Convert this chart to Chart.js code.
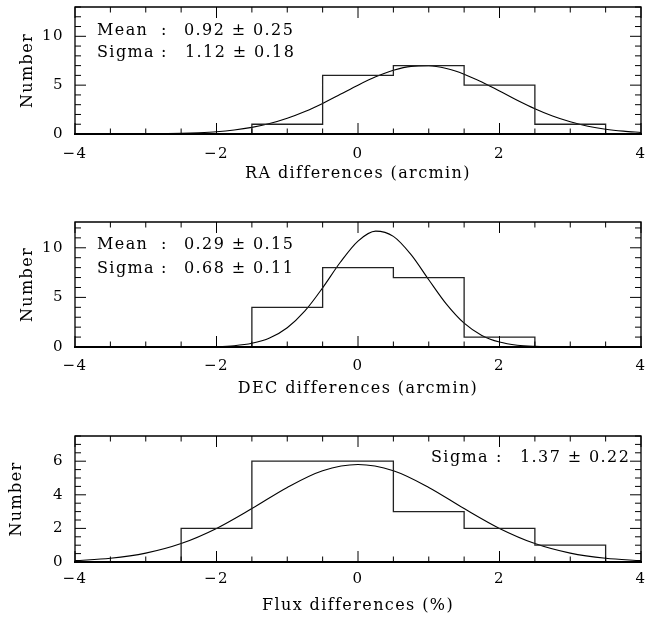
<!DOCTYPE html>
<html>
<head>
<meta charset="utf-8">
<script src="https://cdn.jsdelivr.net/npm/chart.js@4.4.1/dist/chart.umd.min.js"></script>
<style>
  html, body { margin: 0; padding: 0; background: #fff; }
  #wrap { position: relative; width: 645px; height: 618px; }
  .panel { position: absolute; left: 0; width: 645px; }
</style>
</head>
<body>
<div id="wrap">
  <div class="panel" style="top:0;height:200px"><canvas id="raChart"></canvas></div>
  <div class="panel" style="top:200px;height:210px"><canvas id="decChart"></canvas></div>
  <div class="panel" style="top:410px;height:208px"><canvas id="fluxChart"></canvas></div>
</div>
<script>
// ---- data ----
const xTicks = [-4, -2, 0, 2, 4];

// RA differences
const raEdges = [-1.5, -0.5, 0.5, 1.5, 2.5, 3.5];
const raCounts = [1, 6, 7, 5, 1];
const raFitX = [-4, -3.5, -3, -2.5, -2.25, -2, -1.75, -1.5, -1.25, -1, -0.75, -0.5, -0.25, 0, 0.25, 0.5, 0.75, 1, 1.25, 1.5, 1.75, 2, 2.25, 2.5, 2.75, 3, 3.25, 3.5, 3.75, 4];
const raFitY = [0, 0.00, 0.02, 0.07, 0.13, 0.23, 0.41, 0.68, 1.07, 1.61, 2.30, 3.13, 4.06, 5.00, 5.85, 6.52, 6.92, 6.98, 6.70, 6.12, 5.32, 4.40, 3.46, 2.59, 1.84, 1.25, 0.80, 0.49, 0.29, 0.16];
const raTicksY = [0, 5, 10];

// DEC differences
const decEdges = [-1.5, -0.5, 0.5, 1.5, 2.5];
const decCounts = [4, 8, 7, 1];
const decFitX = [-4, -3, -2.5, -2, -1.75, -1.5, -1.25, -1, -0.75, -0.5, -0.25, 0, 0.25, 0.5, 0.75, 1, 1.25, 1.5, 1.75, 2, 2.25, 2.5, 2.75, 3, 4];
const decFitY = [0, 0, 0, 0.04, 0.13, 0.37, 0.90, 1.94, 3.63, 5.96, 8.54, 10.68, 11.68, 11.15, 9.31, 6.78, 4.32, 2.40, 1.17, 0.50, 0.18, 0.06, 0.02, 0, 0];
const decTicksY = [0, 5, 10];

// Flux differences
const fluxEdges = [-2.5, -1.5, -0.5, 0.5, 1.5, 2.5, 3.5];
const fluxCounts = [2, 6, 6, 3, 2, 1];
const fluxFitX = [-4, -3.5, -3, -2.5, -2, -1.5, -1, -0.5, 0, 0.5, 1, 1.5, 2, 2.5, 3, 3.5, 4];
const fluxFitY = [0.08, 0.22, 0.53, 1.10, 2.00, 3.18, 4.44, 5.43, 5.80, 5.43, 4.44, 3.18, 2.00, 1.10, 0.53, 0.22, 0.08];
const fluxTicksY = [0, 2, 4, 6];

Chart.defaults.font.family = "'DejaVu Serif', serif";
Chart.defaults.color = '#000';

const FONT = "16px 'DejaVu Serif', serif";
const SPACING = '1.4px';

// histogram outline as a polyline through the bin corners
function outline(edges, counts) {
  const pts = [{ x: edges[0], y: 0 }];
  counts.forEach((c, i) => {
    pts.push({ x: edges[i], y: c });
    pts.push({ x: edges[i + 1], y: c });
  });
  pts.push({ x: edges[edges.length - 1], y: 0 });
  return pts;
}

function pairs(xs, ys) {
  return xs.map((x, i) => ({ x: x, y: ys[i] }));
}

// box, inward ticks on all four sides, and the fit notes
const framePlugin = {
  id: 'frame',
  beforeDraw(chart) {
    chart.ctx.letterSpacing = SPACING;
  },
  afterDraw(chart, args, opts) {
    const { ctx, chartArea: a, scales: { x, y } } = chart;
    ctx.save();
    ctx.strokeStyle = '#000';
    ctx.lineWidth = 1;
    ctx.beginPath();
    for (let v = x.min; v <= x.max + 1e-9; v += opts.xMinor) {
      const px = x.getPixelForValue(v);
      const len = Math.abs(v / opts.xMajor - Math.round(v / opts.xMajor)) < 1e-6 ? 11 : 5.5;
      ctx.moveTo(px, a.bottom); ctx.lineTo(px, a.bottom - len);
      ctx.moveTo(px, a.top); ctx.lineTo(px, a.top + len);
    }
    for (let v = y.min; v <= y.max + 1e-9; v += opts.yMinor) {
      const py = y.getPixelForValue(v);
      const len = Math.abs(v / opts.yMajor - Math.round(v / opts.yMajor)) < 1e-6 ? 11 : 6;
      ctx.moveTo(a.left, py); ctx.lineTo(a.left + len, py);
      ctx.moveTo(a.right, py); ctx.lineTo(a.right - len, py);
    }
    ctx.stroke();

    ctx.lineWidth = 1.3;
    ctx.beginPath();
    ctx.moveTo(a.left, a.bottom);
    ctx.lineTo(a.left, a.top);
    ctx.lineTo(a.right, a.top);
    ctx.lineTo(a.right, a.bottom);
    ctx.stroke();
    ctx.lineWidth = 2.2;
    ctx.beginPath();
    ctx.moveTo(a.left - 1, a.bottom);
    ctx.lineTo(a.right + 1, a.bottom);
    ctx.stroke();

    ctx.fillStyle = '#000';
    ctx.font = FONT;
    ctx.letterSpacing = SPACING;
    ctx.textBaseline = 'middle';
    ctx.textAlign = 'left';
    opts.notes.forEach(line => {
      line.parts.forEach(p => ctx.fillText(p.text, a.left + p.dx, a.top + line.dy));
    });
    ctx.restore();
  }
};

function makePanel(id, cfg) {
  return new Chart(document.getElementById(id), {
    type: 'line',
    data: {
      datasets: [
        {
          data: outline(cfg.edges, cfg.counts),
          borderColor: '#222',
          borderWidth: 1.3,
          pointRadius: 0,
          tension: 0,
          fill: false
        },
        {
          data: pairs(cfg.fitX, cfg.fitY),
          borderColor: '#000',
          borderWidth: 1.1,
          pointRadius: 0,
          cubicInterpolationMode: 'monotone',
          fill: false
        }
      ]
    },
    options: {
      responsive: true,
      maintainAspectRatio: false,
      animation: false,
      layout: { padding: { top: cfg.padTop, right: 4, left: 0, bottom: 0 } },
      plugins: {
        legend: { display: false },
        tooltip: { enabled: false },
        frame: {
          xMajor: 2, xMinor: 0.5,
          yMajor: cfg.yMajor, yMinor: cfg.yMinor,
          notes: cfg.notes
        }
      },
      scales: {
        x: {
          type: 'linear',
          min: -4,
          max: 4,
          afterBuildTicks: s => { s.ticks = xTicks.map(v => ({ value: v })); },
          afterFit: s => {
            s.height = cfg.xHeight;
            s.paddingLeft = 0; s.paddingRight = 0;
          },
          grid: { display: false, drawTicks: false },
          border: { display: false },
          ticks: {
            padding: cfg.xTickPad,
            font: { size: 15 },
            maxRotation: 0,
            callback: v => (v < 0 ? '\u2212' + Math.abs(v) : String(v))
          },
          title: {
            display: true,
            text: cfg.title,
            font: { size: 16 },
            padding: { top: 0, bottom: cfg.titlePad }
          }
        },
        y: {
          type: 'linear',
          min: 0,
          max: cfg.yMax,
          afterBuildTicks: s => { s.ticks = cfg.yTicks.map(v => ({ value: v })); },
          afterFit: s => {
            s.width = 75;
            s.paddingTop = 0; s.paddingBottom = 0;
          },
          grid: { display: false, drawTicks: false },
          border: { display: false },
          ticks: { padding: 11, font: { size: 15 } },
          title: {
            display: true,
            text: 'Number',
            font: { size: 16 },
            padding: { top: cfg.yTitlePad, bottom: 0 }
          }
        }
      }
    },
    plugins: [framePlugin]
  });
}

makePanel('raChart', {
  edges: raEdges, counts: raCounts, fitX: raFitX, fitY: raFitY,
  yMax: 13, yTicks: raTicksY, yMajor: 5, yMinor: 1,
  title: 'RA differences (arcmin)',
  padTop: 7, xHeight: 66, xTickPad: 11, titlePad: 17, yTitlePad: 18,
  notes: [
    { dy: 24, parts: [{ dx: 22, text: 'Mean' }, { dx: 86, text: ':' }, { dx: 109, text: '0.92 \u00b1 0.25' }] },
    { dy: 46, parts: [{ dx: 22, text: 'Sigma' }, { dx: 86, text: ':' }, { dx: 110, text: '1.12 \u00b1 0.18' }] }
  ]
});

makePanel('decChart', {
  edges: decEdges, counts: decCounts, fitX: decFitX, fitY: decFitY,
  yMax: 12.6, yTicks: decTicksY, yMajor: 5, yMinor: 1,
  title: 'DEC differences (arcmin)',
  padTop: 22, xHeight: 63, xTickPad: 10, titlePad: 12, yTitlePad: 18,
  notes: [
    { dy: 23, parts: [{ dx: 22, text: 'Mean' }, { dx: 86, text: ':' }, { dx: 109, text: '0.29 \u00b1 0.15' }] },
    { dy: 47, parts: [{ dx: 22, text: 'Sigma' }, { dx: 86, text: ':' }, { dx: 109, text: '0.68 \u00b1 0.11' }] }
  ]
});

makePanel('fluxChart', {
  edges: fluxEdges, counts: fluxCounts, fitX: fluxFitX, fitY: fluxFitY,
  yMax: 7.5, yTicks: fluxTicksY, yMajor: 2, yMinor: 0.5,
  title: 'Flux differences (%)',
  padTop: 26, xHeight: 56, xTickPad: 8, titlePad: 3, yTitlePad: 7,
  notes: [
    { dy: 22, parts: [{ dx: 356, text: 'Sigma' }, { dx: 421, text: ':' }, { dx: 445, text: '1.37 \u00b1 0.22' }] }
  ]
});
</script>
</body>
</html>
